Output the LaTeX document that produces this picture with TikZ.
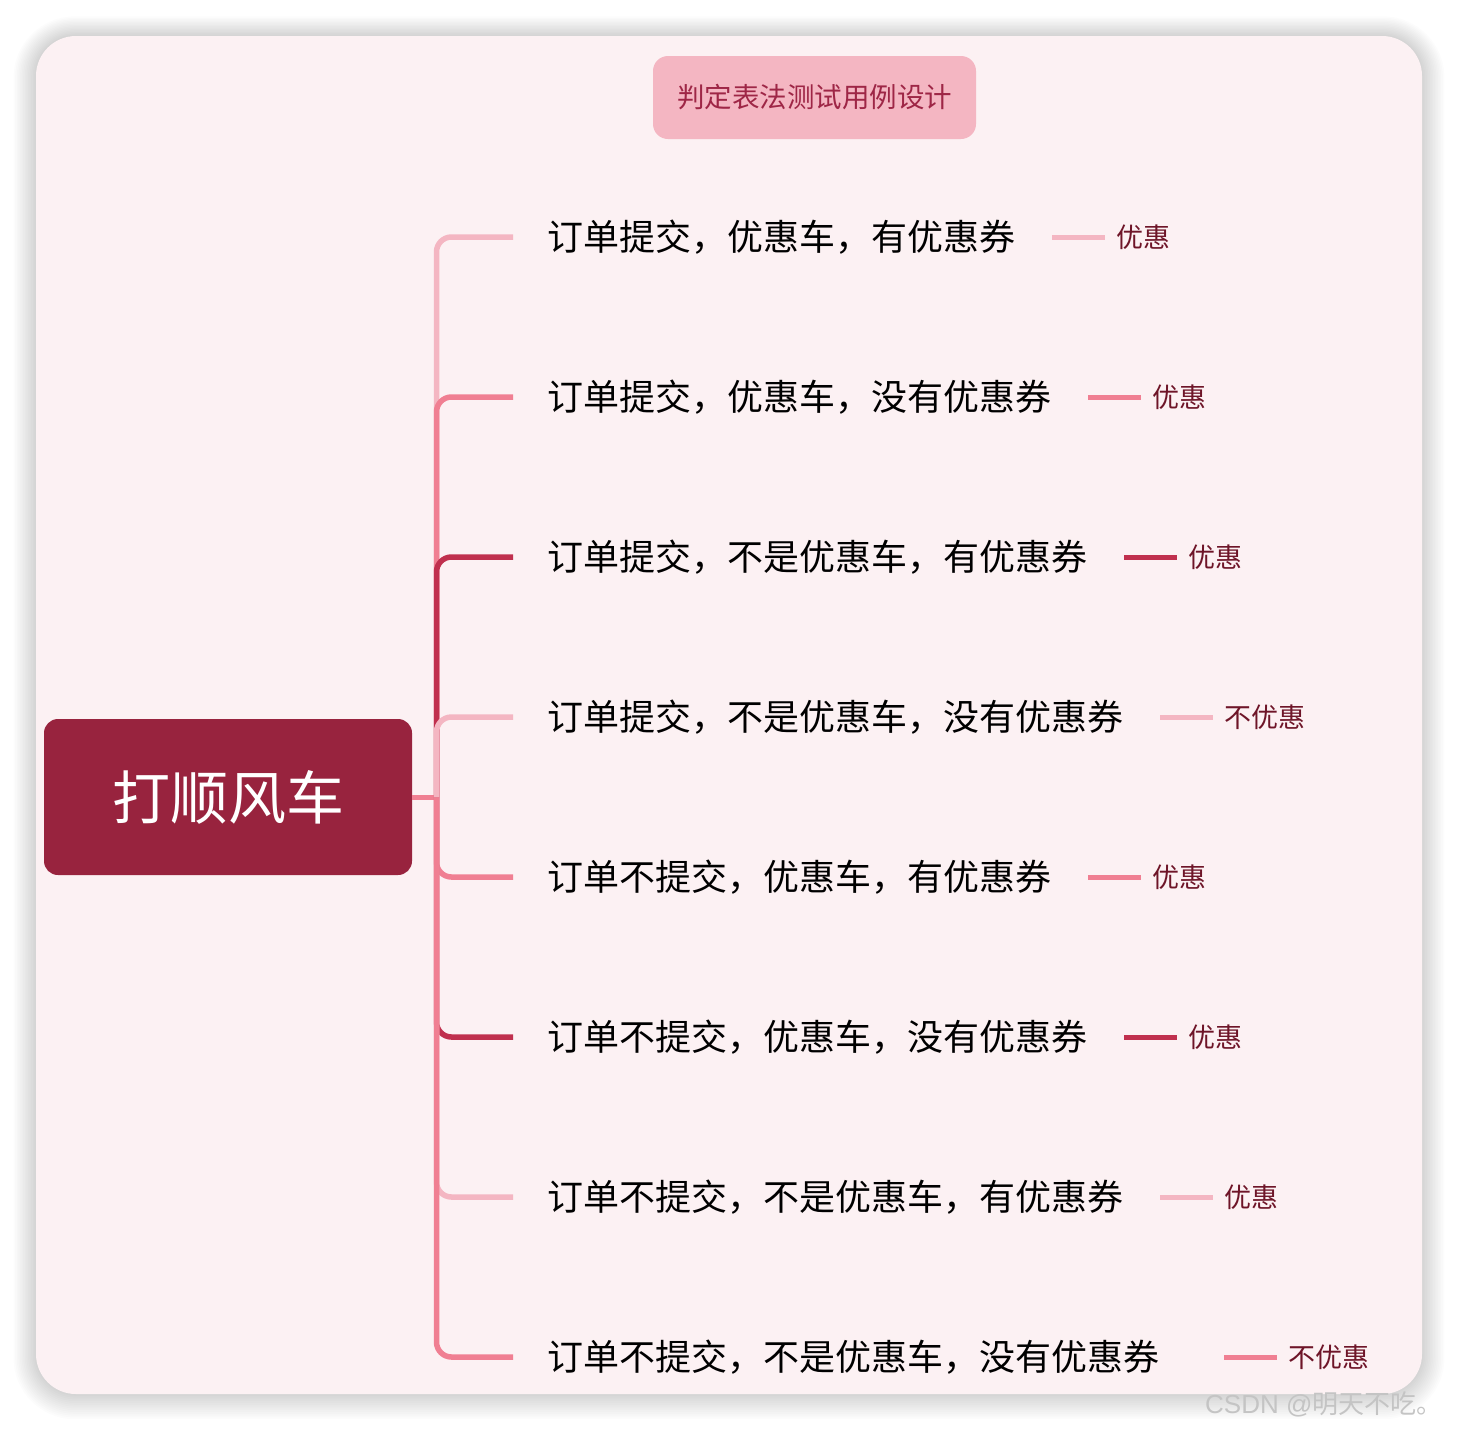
\documentclass[tikz,border=0pt]{standalone}
\usepackage{fontspec}
\newfontfamily\cjk{Noto Sans CJK SC}
\usetikzlibrary{calc}
\definecolor{cardbg}{HTML}{FCF1F3}
\definecolor{rootc}{HTML}{98233E}
\definecolor{pinkA}{HTML}{F4B6C2}
\definecolor{pinkB}{HTML}{F07F92}
\definecolor{pinkC}{HTML}{C0304E}
\definecolor{labc}{HTML}{6E1528}
\definecolor{titc}{HTML}{9E2646}
\definecolor{wmark}{HTML}{C4C4C4}
\tikzset{
  br/.style={line width=5.5pt, rounded corners=15pt},
  tx/.style={anchor=west, inner sep=0pt, font=\cjk\fontsize{36}{40}\selectfont, text=black},
  lab/.style={anchor=west, inner sep=0pt, font=\cjk\fontsize{27}{30}\selectfont, text=labc},
  lk/.style={line width=5pt},
}
\begin{document}
\begin{tikzpicture}[x=1pt,y=-1pt]
\useasboundingbox (0,0) rectangle (1458,1430);
\fill[white] (0,0) rectangle (1458,1430);
% shadow
\foreach \i in {1,...,14}{
  \fill[black, opacity=0.012, rounded corners={40pt+\i*1.5pt}] ({36-\i*1.6},{36-\i*1.4}) rectangle ({1422+\i*1.6},{1394+\i*1.8});
}
% card
\fill[cardbg, rounded corners=40pt] (36,36) rectangle (1422,1394);
% title
\node[fill=pinkA, rounded corners=15pt, minimum width=323pt, minimum height=83pt, inner sep=0pt,
      font=\cjk\fontsize{27.5}{30}\selectfont, text=titc] (title) at (814.5,97.5) {判定表法测试用例设计};
% root
\node[fill=rootc, rounded corners=14pt, minimum width=368pt, minimum height=156pt, inner sep=0pt,
      font=\cjk\fontsize{58}{62}\selectfont, text=white] (root) at (228,797) {打顺风车};
\coordinate (J) at (436.5,797);
% branch texts
\node[tx] (t1) at (547,237) {订单提交，优惠车，有优惠券};
\node[tx] (t2) at (547,397) {订单提交，优惠车，没有优惠券};
\node[tx] (t3) at (547,557) {订单提交，不是优惠车，有优惠券};
\node[tx] (t4) at (547,717) {订单提交，不是优惠车，没有优惠券};
\node[tx] (t5) at (547,877) {订单不提交，优惠车，有优惠券};
\node[tx] (t6) at (547,1037) {订单不提交，优惠车，没有优惠券};
\node[tx] (t7) at (547,1197) {订单不提交，不是优惠车，有优惠券};
\node[tx] (t8) at (547,1357) {订单不提交，不是优惠车，没有优惠券};
% labels
\node[lab] (l1) at (1116,237) {优惠};
\node[lab] (l2) at (1152,397) {优惠};
\node[lab] (l3) at (1188,557) {优惠};
\node[lab] (l4) at (1224,717) {不优惠};
\node[lab] (l5) at (1152,877) {优惠};
\node[lab] (l6) at (1188,1037) {优惠};
\node[lab] (l7) at (1224,1197) {优惠};
\node[lab] (l8) at (1288,1357) {不优惠};
% root link
\draw[lk, pinkB] (root.east) -- (J);
% branches (bottom)
\draw[br, pinkB] (J) |- ([xshift=-34pt]t5.west);
\draw[br, pinkC] (J) |- ([xshift=-34pt]t6.west);
\draw[br, pinkA] (J) |- ([xshift=-34pt]t7.west);
\draw[br, pinkB] (J) |- ([xshift=-34pt]t8.west);
% branches (top)
\draw[br, pinkA] (J) |- ([xshift=-34pt]t1.west);
\draw[br, pinkB] (J) |- ([xshift=-34pt]t2.west);
\draw[br, pinkC] (J) |- ([xshift=-34pt]t3.west);
\draw[br, pinkA] (J) |- ([xshift=-34pt]t4.west);
% label links
\draw[lk, pinkA] ([xshift=-64pt]l1.west) -- ([xshift=-11pt]l1.west);
\draw[lk, pinkB] ([xshift=-64pt]l2.west) -- ([xshift=-11pt]l2.west);
\draw[lk, pinkC] ([xshift=-64pt]l3.west) -- ([xshift=-11pt]l3.west);
\draw[lk, pinkA] ([xshift=-64pt]l4.west) -- ([xshift=-11pt]l4.west);
\draw[lk, pinkB] ([xshift=-64pt]l5.west) -- ([xshift=-11pt]l5.west);
\draw[lk, pinkC] ([xshift=-64pt]l6.west) -- ([xshift=-11pt]l6.west);
\draw[lk, pinkA] ([xshift=-64pt]l7.west) -- ([xshift=-11pt]l7.west);
\draw[lk, pinkB] ([xshift=-64pt]l8.west) -- ([xshift=-11pt]l8.west);
% watermark
\node[anchor=west, inner sep=0pt, font=\fontspec{Liberation Sans}\fontsize{26}{28}\selectfont, text=wmark] (wm) at (1205,1404) {CSDN @{\cjk 明天不吃。}};
\end{tikzpicture}
\end{document}
